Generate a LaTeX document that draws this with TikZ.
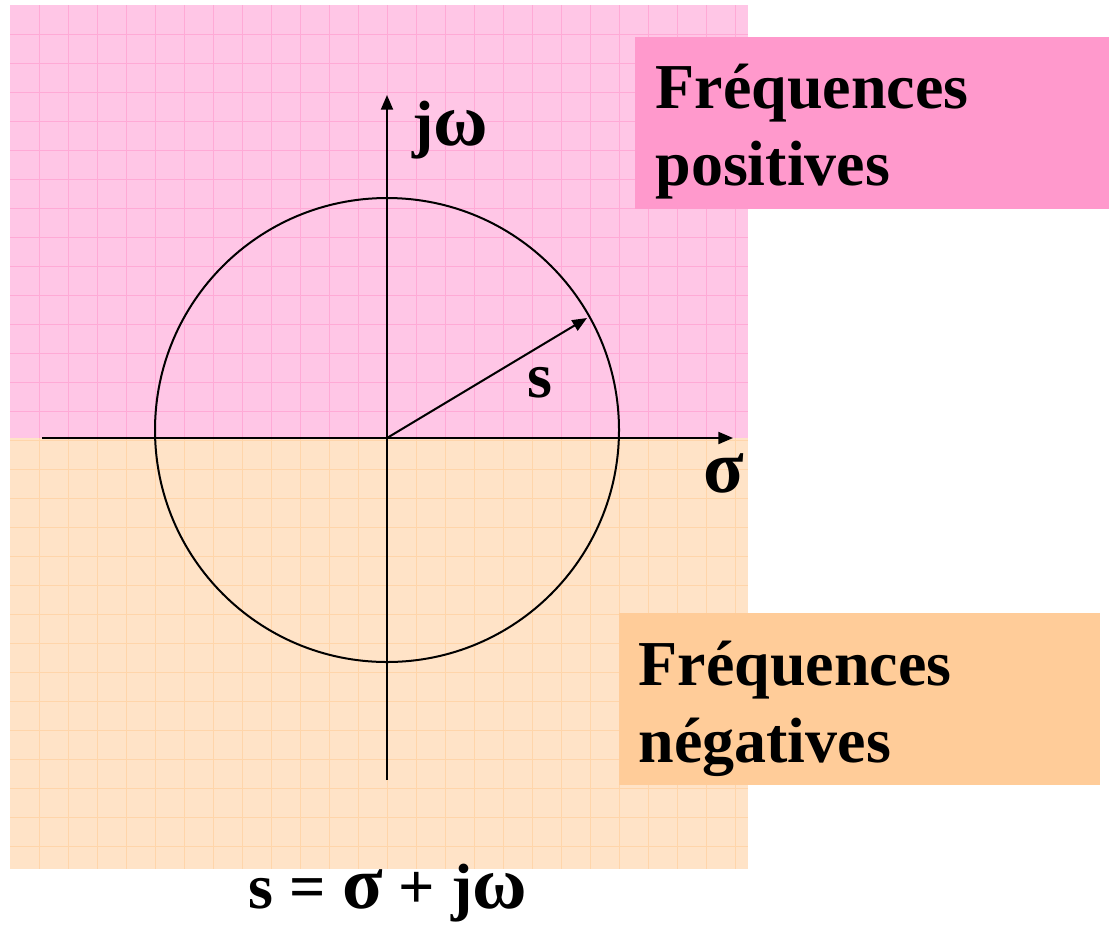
\documentclass[tikz,border=0pt]{standalone}
\usepackage{fontspec}
\setmainfont{Liberation Serif}
\usetikzlibrary{arrows.meta}
\definecolor{pinkbg}{RGB}{255,198,230}
\definecolor{pinkline}{RGB}{255,170,214}
\definecolor{peachbg}{RGB}{255,227,199}
\definecolor{peachline}{RGB}{255,213,170}
\definecolor{pinkbox}{RGB}{255,153,204}
\definecolor{peachbox}{RGB}{255,204,153}
\newcommand{\gk}[1]{{\fontsize{56}{60}\selectfont #1}}
\tikzset{every picture/.style={line width=0.75pt}}
\tikzset{
big label/.style={font=\fontsize{48}{57.75}\selectfont\bfseries, inner sep=0pt},
axis line/.style={line width=1.5pt, -{Triangle[length=11pt,width=9pt]}}}

\begin{document}
\begin{tikzpicture}[x=0.75pt,y=0.75pt,yscale=-1,xscale=1]
\useasboundingbox (0,0) rectangle (1109,925);

%Shape: Rectangle [upper half plane]
\fill [pinkbg] (10,5) rectangle (748,438) ;
%Shape: Rectangle [lower half plane]
\fill [peachbg] (10,438) rectangle (748,869) ;
%Shape: Grid
\foreach \gx in {39,68,...,735} {
  \draw [pinkline, line width=0.6pt] (\gx,5) -- (\gx,438) ;
  \draw [peachline, line width=0.6pt] (\gx,438) -- (\gx,869) ;
}
\foreach \gy in {34,63,...,437} \draw [pinkline, line width=0.6pt] (10,\gy) -- (748,\gy) ;
\foreach \gy in {440,469,...,869} \draw [peachline, line width=0.6pt] (10,\gy) -- (748,\gy) ;

%Shape: Rectangle [boxes]
\fill [pinkbox] (635,37) rectangle (1109,209) ;
\fill [peachbox] (619,613) rectangle (1100,785) ;

%Coordinates
\coordinate (O) at (387,438) ;
\coordinate (C) at (387,430) ;
\coordinate (sigmaL) at (42,438) ;
\coordinate (sigmaR) at (733,438) ;
\coordinate (omegaB) at (387,780) ;
\coordinate (omegaT) at (387,95) ;
\coordinate (S) at (587,318) ;

%Shape: Circle
\draw [line width=1.5pt] (C) circle [radius=232] ;
%Straight Lines [axes]
\draw [axis line] (sigmaL) -- (sigmaR) ;
\draw [axis line] (omegaB) -- (omegaT) ;
%Straight Lines [vector s]
\draw [axis line] (O) -- (S) ;

% Text Node
\node (jw) [big label, anchor=base west] at (412,145) {j\gk{ω}};
% Text Node
\node (s) [big label, anchor=base west] at (527,397) {s};
% Text Node
\node (sig) [big label, anchor=base west] at (703,492) {\gk{σ}};
% Text Node
\node (def) [big label, anchor=base] at (388,908) {s = \gk{σ} + j\gk{ω}};
% Text Node
\node (pos) [big label, anchor=base west, align=left] at (655,185) {Fréquences\\positives};
% Text Node
\node (neg) [big label, anchor=base west, align=left] at (638,762) {Fréquences\\négatives};

\end{tikzpicture}
\end{document}
